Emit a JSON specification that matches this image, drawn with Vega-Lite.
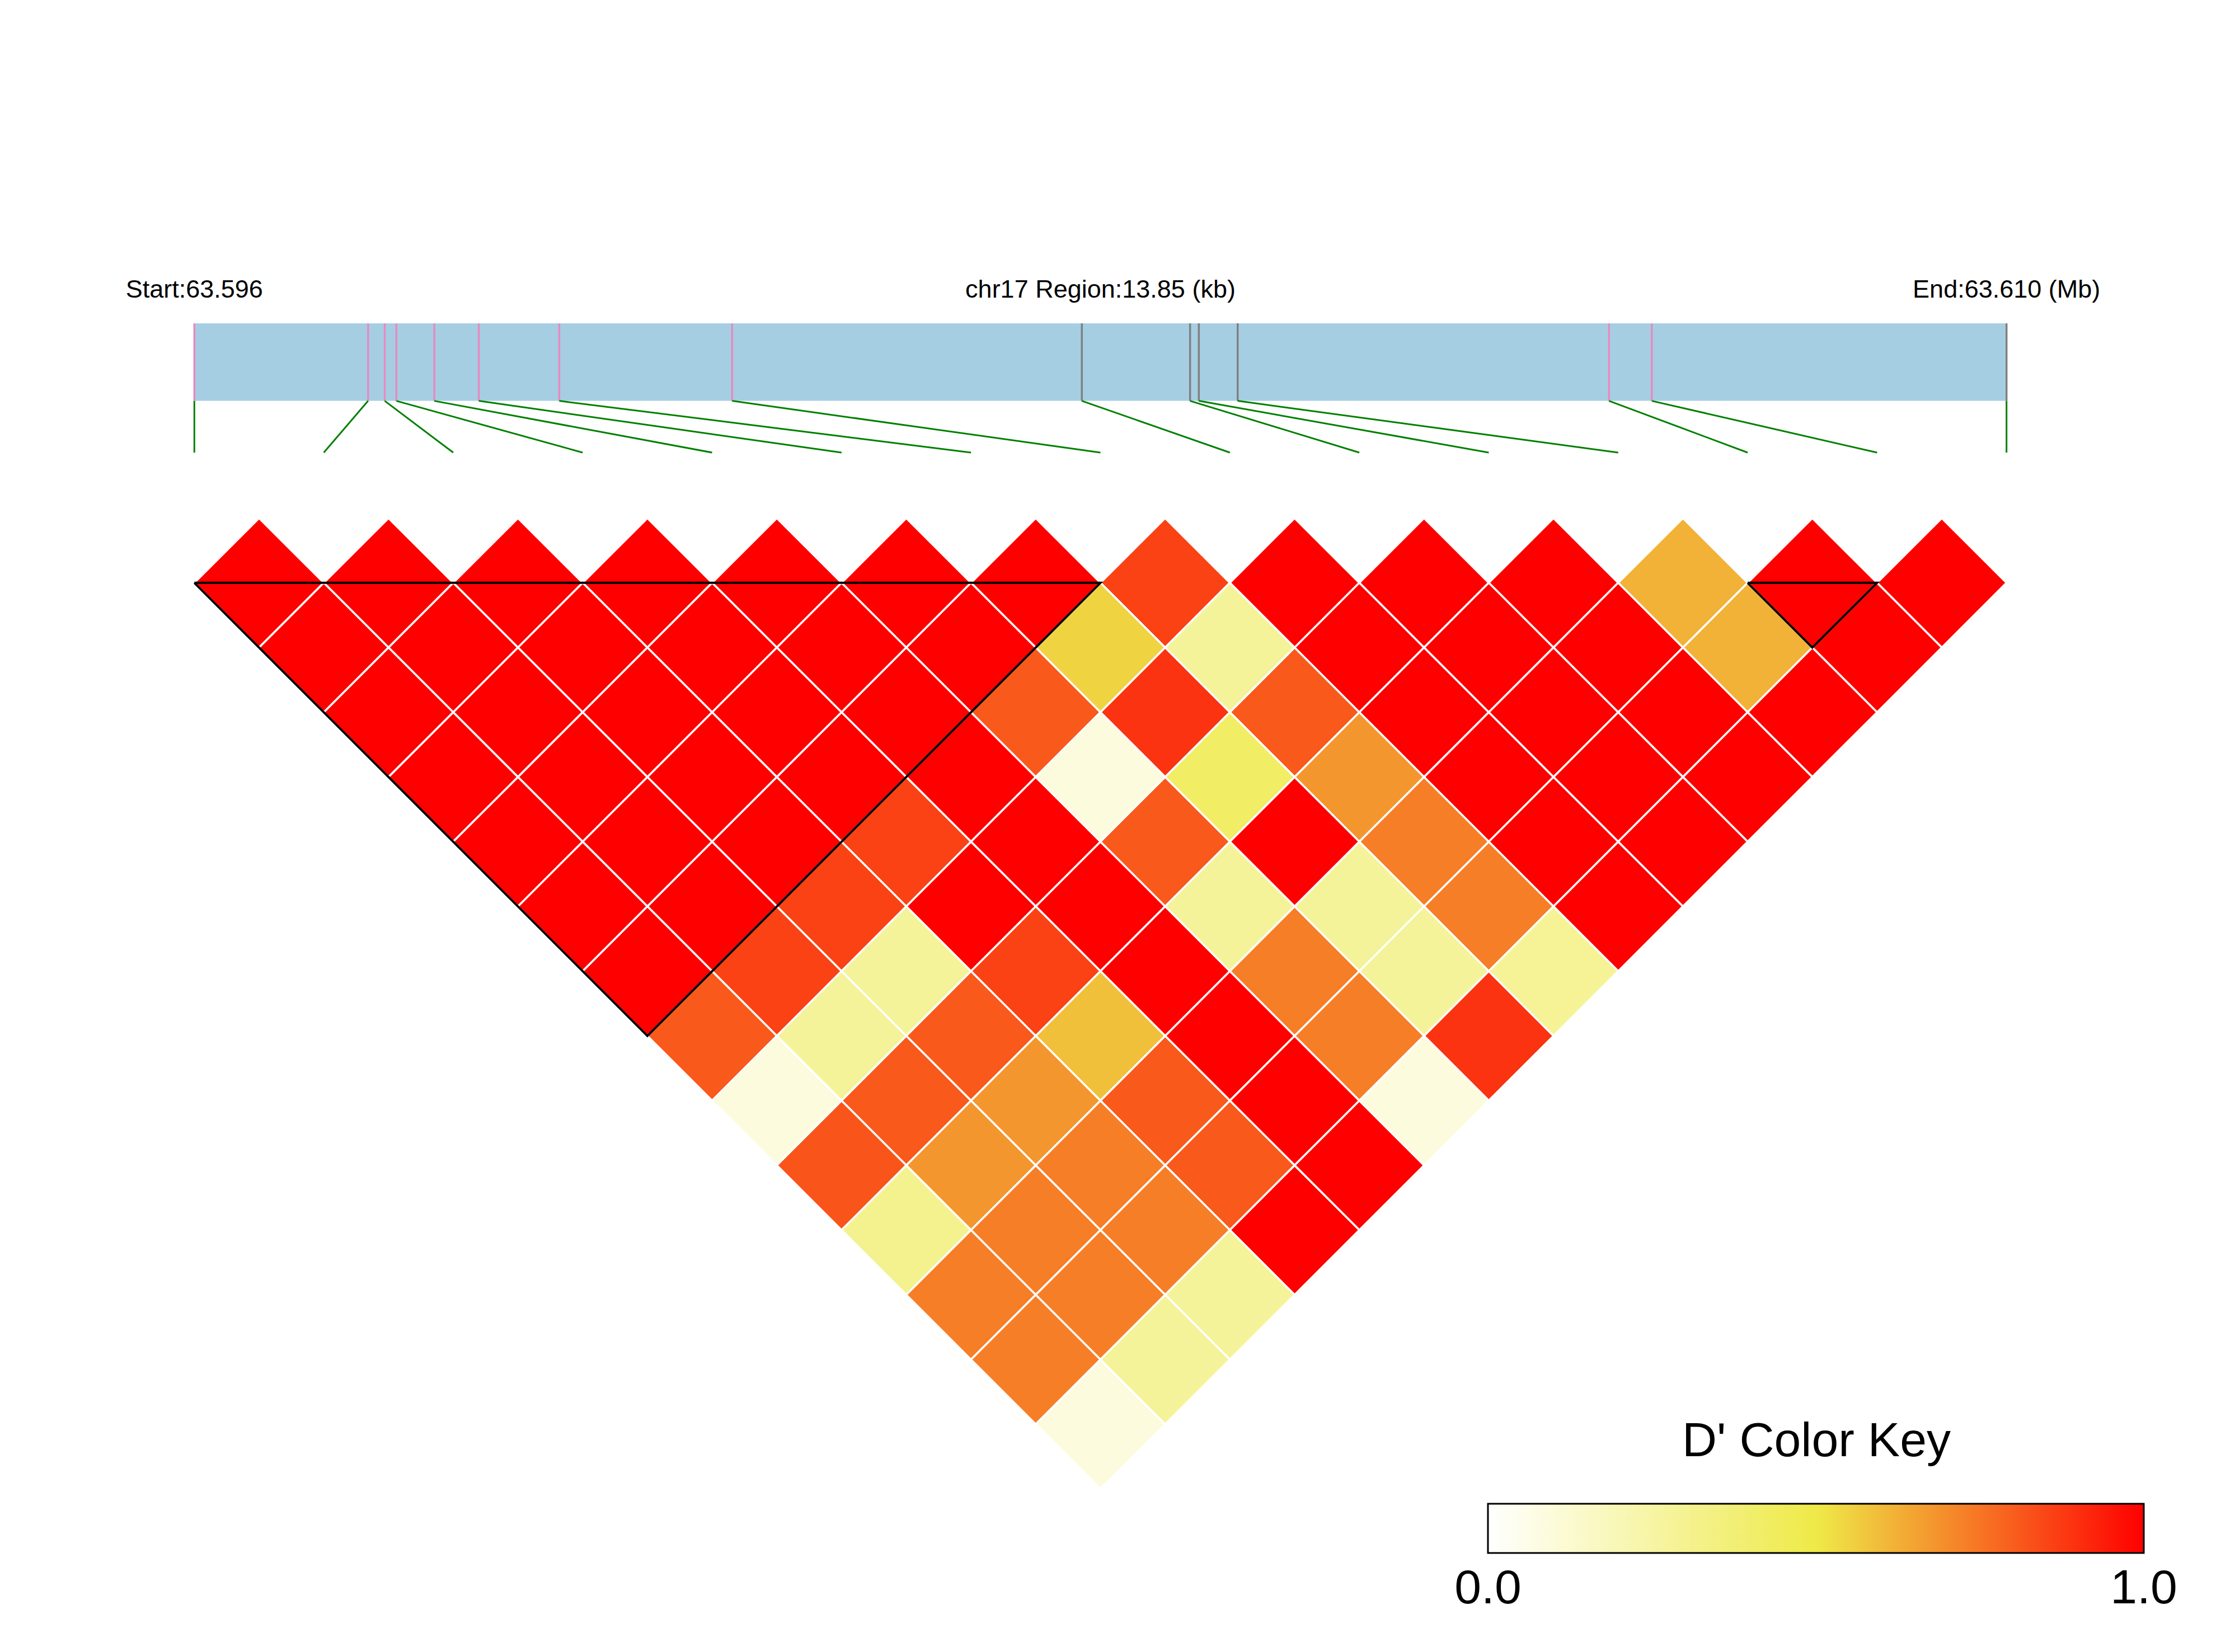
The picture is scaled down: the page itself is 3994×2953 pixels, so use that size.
{
  "$schema": "https://vega.github.io/schema/vega-lite/v6.json",
  "width": 3994,
  "height": 2953,
  "autosize": {"type": "none"},
  "padding": 0,
  "background": "white",
  "config": {"view": {"stroke": null}, "font": "Liberation Sans"},
  "datasets": {
    "bar": [{"start": 0, "end": 13.85}],
    "snps": [
      {"snp": 1, "pos_kb": 0, "inBlock": "yes"},
      {"snp": 2, "pos_kb": 1.328, "inBlock": "yes"},
      {"snp": 3, "pos_kb": 1.455, "inBlock": "yes"},
      {"snp": 4, "pos_kb": 1.544, "inBlock": "yes"},
      {"snp": 5, "pos_kb": 1.834, "inBlock": "yes"},
      {"snp": 6, "pos_kb": 2.174, "inBlock": "yes"},
      {"snp": 7, "pos_kb": 2.789, "inBlock": "yes"},
      {"snp": 8, "pos_kb": 4.110, "inBlock": "yes"},
      {"snp": 9, "pos_kb": 6.783, "inBlock": "no"},
      {"snp": 10, "pos_kb": 7.610, "inBlock": "no"},
      {"snp": 11, "pos_kb": 7.677, "inBlock": "no"},
      {"snp": 12, "pos_kb": 7.974, "inBlock": "no"},
      {"snp": 13, "pos_kb": 10.812, "inBlock": "yes"},
      {"snp": 14, "pos_kb": 11.139, "inBlock": "yes"},
      {"snp": 15, "pos_kb": 13.85, "inBlock": "no"}
    ],
    "labels": [
      {"label": "Start:63.596", "pos_kb": 0},
      {"label": "chr17 Region:13.85 (kb)", "pos_kb": 6.925},
      {"label": "End:63.610 (Mb)", "pos_kb": 13.85}
    ],
    "blocks": [
      {"block": 1, "vertex": 1, "slot": 1, "lag": 1},
      {"block": 1, "vertex": 2, "slot": 8, "lag": 1},
      {"block": 1, "vertex": 3, "slot": 4.5, "lag": 8},
      {"block": 1, "vertex": 4, "slot": 1, "lag": 1},
      {"block": 2, "vertex": 1, "slot": 13, "lag": 1},
      {"block": 2, "vertex": 2, "slot": 14, "lag": 1},
      {"block": 2, "vertex": 3, "slot": 13.5, "lag": 2},
      {"block": 2, "vertex": 4, "slot": 13, "lag": 1}
    ],
    "ld": [
      {"snp1": 1, "snp2": 2, "D": 1}, {"snp1": 2, "snp2": 3, "D": 1}, {"snp1": 3, "snp2": 4, "D": 1}, {"snp1": 4, "snp2": 5, "D": 1},
      {"snp1": 5, "snp2": 6, "D": 1}, {"snp1": 6, "snp2": 7, "D": 1}, {"snp1": 7, "snp2": 8, "D": 1}, {"snp1": 8, "snp2": 9, "D": 0.86},
      {"snp1": 9, "snp2": 10, "D": 1}, {"snp1": 10, "snp2": 11, "D": 1}, {"snp1": 11, "snp2": 12, "D": 1}, {"snp1": 12, "snp2": 13, "D": 0.62},
      {"snp1": 13, "snp2": 14, "D": 1}, {"snp1": 14, "snp2": 15, "D": 1},
      {"snp1": 1, "snp2": 3, "D": 1}, {"snp1": 2, "snp2": 4, "D": 1}, {"snp1": 3, "snp2": 5, "D": 1}, {"snp1": 4, "snp2": 6, "D": 1},
      {"snp1": 5, "snp2": 7, "D": 1}, {"snp1": 6, "snp2": 8, "D": 1}, {"snp1": 7, "snp2": 9, "D": 0.55}, {"snp1": 8, "snp2": 10, "D": 0.28},
      {"snp1": 9, "snp2": 11, "D": 1}, {"snp1": 10, "snp2": 12, "D": 1}, {"snp1": 11, "snp2": 13, "D": 1}, {"snp1": 12, "snp2": 14, "D": 0.62},
      {"snp1": 13, "snp2": 15, "D": 1},
      {"snp1": 1, "snp2": 4, "D": 1}, {"snp1": 2, "snp2": 5, "D": 1}, {"snp1": 3, "snp2": 6, "D": 1}, {"snp1": 4, "snp2": 7, "D": 1},
      {"snp1": 5, "snp2": 8, "D": 1}, {"snp1": 6, "snp2": 9, "D": 0.81}, {"snp1": 7, "snp2": 10, "D": 0.89}, {"snp1": 8, "snp2": 11, "D": 0.81},
      {"snp1": 9, "snp2": 12, "D": 1}, {"snp1": 10, "snp2": 13, "D": 1}, {"snp1": 11, "snp2": 14, "D": 1}, {"snp1": 12, "snp2": 15, "D": 1},
      {"snp1": 1, "snp2": 5, "D": 1}, {"snp1": 2, "snp2": 6, "D": 1}, {"snp1": 3, "snp2": 7, "D": 1}, {"snp1": 4, "snp2": 8, "D": 1},
      {"snp1": 5, "snp2": 9, "D": 1}, {"snp1": 6, "snp2": 10, "D": 0.09}, {"snp1": 7, "snp2": 11, "D": 0.42}, {"snp1": 8, "snp2": 12, "D": 0.68},
      {"snp1": 9, "snp2": 13, "D": 1}, {"snp1": 10, "snp2": 14, "D": 1}, {"snp1": 11, "snp2": 15, "D": 1},
      {"snp1": 1, "snp2": 6, "D": 1}, {"snp1": 2, "snp2": 7, "D": 1}, {"snp1": 3, "snp2": 8, "D": 1}, {"snp1": 4, "snp2": 9, "D": 0.86},
      {"snp1": 5, "snp2": 10, "D": 1}, {"snp1": 6, "snp2": 11, "D": 0.81}, {"snp1": 7, "snp2": 12, "D": 1}, {"snp1": 8, "snp2": 13, "D": 0.73},
      {"snp1": 9, "snp2": 14, "D": 1}, {"snp1": 10, "snp2": 15, "D": 1},
      {"snp1": 1, "snp2": 7, "D": 1}, {"snp1": 2, "snp2": 8, "D": 1}, {"snp1": 3, "snp2": 9, "D": 0.86}, {"snp1": 4, "snp2": 10, "D": 1},
      {"snp1": 5, "snp2": 11, "D": 1}, {"snp1": 6, "snp2": 12, "D": 0.28}, {"snp1": 7, "snp2": 13, "D": 0.28}, {"snp1": 8, "snp2": 14, "D": 0.73},
      {"snp1": 9, "snp2": 15, "D": 1},
      {"snp1": 1, "snp2": 8, "D": 1}, {"snp1": 2, "snp2": 9, "D": 0.86}, {"snp1": 3, "snp2": 10, "D": 0.28}, {"snp1": 4, "snp2": 11, "D": 0.86},
      {"snp1": 5, "snp2": 12, "D": 1}, {"snp1": 6, "snp2": 13, "D": 0.73}, {"snp1": 7, "snp2": 14, "D": 0.28}, {"snp1": 8, "snp2": 15, "D": 0.29},
      {"snp1": 1, "snp2": 9, "D": 0.81}, {"snp1": 2, "snp2": 10, "D": 0.28}, {"snp1": 3, "snp2": 11, "D": 0.81}, {"snp1": 4, "snp2": 12, "D": 0.59},
      {"snp1": 5, "snp2": 13, "D": 1}, {"snp1": 6, "snp2": 14, "D": 0.73}, {"snp1": 7, "snp2": 15, "D": 0.89},
      {"snp1": 1, "snp2": 10, "D": 0.09}, {"snp1": 2, "snp2": 11, "D": 0.81}, {"snp1": 3, "snp2": 12, "D": 0.68}, {"snp1": 4, "snp2": 13, "D": 0.81},
      {"snp1": 5, "snp2": 14, "D": 1}, {"snp1": 6, "snp2": 15, "D": 0.09},
      {"snp1": 1, "snp2": 11, "D": 0.82}, {"snp1": 2, "snp2": 12, "D": 0.68}, {"snp1": 3, "snp2": 13, "D": 0.73}, {"snp1": 4, "snp2": 14, "D": 0.81},
      {"snp1": 5, "snp2": 15, "D": 1},
      {"snp1": 1, "snp2": 12, "D": 0.31}, {"snp1": 2, "snp2": 13, "D": 0.73}, {"snp1": 3, "snp2": 14, "D": 0.73}, {"snp1": 4, "snp2": 15, "D": 1},
      {"snp1": 1, "snp2": 13, "D": 0.73}, {"snp1": 2, "snp2": 14, "D": 0.73}, {"snp1": 3, "snp2": 15, "D": 0.28},
      {"snp1": 1, "snp2": 14, "D": 0.73}, {"snp1": 2, "snp2": 15, "D": 0.28},
      {"snp1": 1, "snp2": 15, "D": 0.09}
    ]
  },
  "resolve": {"scale": {"x": "independent", "y": "independent"}},
  "layer": [
    {
      "data": {"name": "bar"},
      "mark": {"type": "rect", "color": "#A6CEE3"},
      "encoding": {
        "x": {"field": "start", "type": "quantitative", "scale": {"domain": [0, 13.85], "range": [347.3, 3585.7], "nice": false, "zero": false}, "axis": null},
        "x2": {"field": "end"},
        "y": {"datum": 0, "type": "quantitative", "scale": {"domain": [-1, 5], "range": [531.8, 809], "nice": false, "zero": false}, "axis": null},
        "y2": {"datum": 3}
      }
    },
    {
      "data": {"name": "snps"},
      "mark": {"type": "rule", "strokeWidth": 3.5},
      "encoding": {
        "x": {"field": "pos_kb", "type": "quantitative", "scale": {"domain": [0, 13.85], "range": [347.3, 3585.7], "nice": false, "zero": false}, "axis": null},
        "y": {"datum": 0, "type": "quantitative", "scale": {"domain": [-1, 5], "range": [531.8, 809], "nice": false, "zero": false}, "axis": null},
        "y2": {"datum": 3},
        "stroke": {"field": "inBlock", "type": "nominal", "scale": {"domain": ["yes", "no"], "range": ["#E68AC2", "#808080"]}, "legend": null}
      }
    },
    {
      "data": {"name": "snps"},
      "transform": [{"calculate": "(datum.snp - 1) * 13.85 / 14", "as": "slot_kb"}],
      "mark": {"type": "rule", "color": "#008000", "strokeWidth": 3},
      "encoding": {
        "x": {"field": "pos_kb", "type": "quantitative", "scale": {"domain": [0, 13.85], "range": [347.3, 3585.7], "nice": false, "zero": false}, "axis": null},
        "x2": {"field": "slot_kb"},
        "y": {"datum": 3, "type": "quantitative", "scale": {"domain": [-1, 5], "range": [531.8, 809], "nice": false, "zero": false}, "axis": null},
        "y2": {"datum": 5}
      }
    },
    {
      "data": {"name": "labels"},
      "mark": {"type": "text", "fontSize": 45, "font": "Liberation Sans", "align": "center", "baseline": "alphabetic", "color": "black"},
      "encoding": {
        "x": {"field": "pos_kb", "type": "quantitative", "scale": {"domain": [0, 13.85], "range": [347.3, 3585.7], "nice": false, "zero": false}, "axis": null},
        "y": {"datum": -1, "type": "quantitative", "scale": {"domain": [-1, 5], "range": [531.8, 809], "nice": false, "zero": false}, "axis": null},
        "text": {"field": "label", "type": "nominal"}
      }
    },
    {
      "data": {"name": "ld"},
      "transform": [
        {"calculate": "(datum.snp1 + datum.snp2) / 2", "as": "mid"},
        {"calculate": "datum.snp2 - datum.snp1", "as": "lag"}
      ],
      "mark": {"type": "point", "shape": "diamond", "filled": true, "size": 53505, "opacity": 1, "stroke": "white", "strokeWidth": 3.5},
      "encoding": {
        "x": {"field": "mid", "type": "quantitative", "scale": {"domain": [1, 15], "range": [347.3, 3585.7], "nice": false, "zero": false}, "axis": null},
        "y": {"field": "lag", "type": "quantitative", "scale": {"domain": [1, 14], "range": [1041.8, 2545.9], "nice": false, "zero": false}, "axis": null},
        "color": {
          "field": "D", "type": "quantitative",
          "scale": {"domain": [0, 0.5, 1], "range": ["#FFFFFF", "#EEEA48", "#FF0000"], "interpolate": "rgb"},
          "legend": {
            "orient": "none", "legendX": 2659, "legendY": 2535, "direction": "horizontal", "padding": 0,
            "title": "D' Color Key", "titleFont": "Liberation Sans", "titleFontSize": 86, "titleFontWeight": "normal",
            "titleColor": "black", "titleAnchor": "middle", "titleAlign": "center", "titlePadding": 67, "titleLimit": 3000,
            "gradientLength": 1172, "gradientThickness": 88, "gradientStrokeColor": "black", "gradientStrokeWidth": 3,
            "values": [0, 1], "format": ".1f", "labelFont": "Liberation Sans", "labelFontSize": 86, "labelColor": "black",
            "labelAlign": "center", "labelOffset": 22, "labelOverlap": false, "labelLimit": 1000,
            "encoding": {"labels": {"align": {"value": "center"}}}
          }
        }
      }
    },
    {
      "data": {"name": "blocks"},
      "mark": {"type": "line", "color": "black", "strokeWidth": 4, "strokeJoin": "miter"},
      "encoding": {
        "x": {"field": "slot", "type": "quantitative", "scale": {"domain": [1, 15], "range": [347.3, 3585.7], "nice": false, "zero": false}, "axis": null},
        "y": {"field": "lag", "type": "quantitative", "scale": {"domain": [1, 14], "range": [1041.8, 2545.9], "nice": false, "zero": false}, "axis": null},
        "detail": {"field": "block", "type": "nominal"},
        "order": {"field": "vertex", "type": "quantitative"}
      }
    }
  ]
}
